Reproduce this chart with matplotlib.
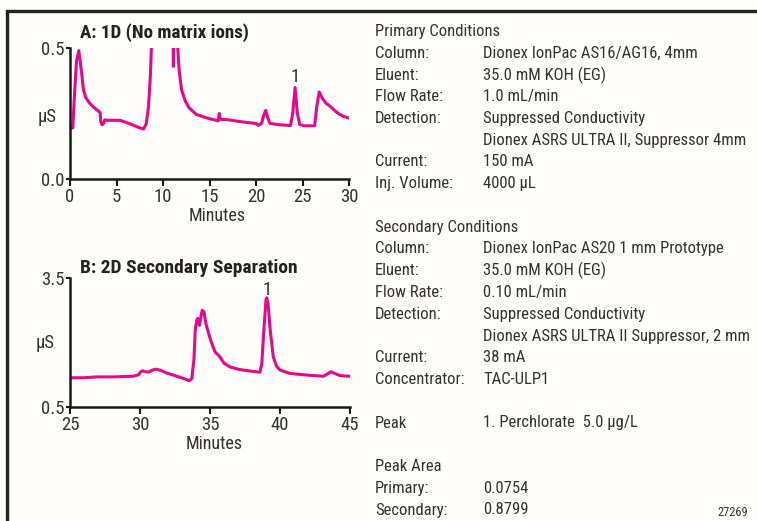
import matplotlib
matplotlib.use("Agg")
import matplotlib.pyplot as plt
from matplotlib.lines import Line2D
from matplotlib import font_manager as fm

_avail = set(f.name for f in fm.fontManager.ttflist)

def pick(prefs):
    for p in prefs:
        if p in _avail:
            return p
    return 'DejaVu Sans'

REG = pick(['Roboto Condensed', 'Archivo Narrow', 'Asap Condensed', 'DejaVu Sans'])
BOLD = pick(['Roboto Condensed', 'Asap Condensed', 'Barlow Condensed', 'DejaVu Sans'])
plt.rcParams['font.family'] = [REG, 'DejaVu Sans']

# ---- data ----
a_time = [0.0, 0.3, 0.45, 0.7, 0.95, 1.2, 1.45, 1.7, 2.1, 2.6, 3.1, 3.25, 3.3, 3.45, 3.6, 3.75,
          4.0, 5.4, 6.5, 7.5, 7.9, 8.2, 8.45, 8.65, 8.8, 9.0, 10.8, 11.0, 11.12, 11.22, 11.4,
          11.5, 11.58, 11.75, 12.0, 12.4, 12.8, 13.1, 13.6, 14.7, 15.95, 16.05, 16.15, 17.0,
          18.5, 20.0, 20.2, 20.4, 20.6, 20.85, 21.05, 21.25, 21.5, 22.5, 23.7, 23.95, 24.2,
          24.45, 24.7, 25.2, 26.3, 26.55, 26.8, 27.1, 27.5, 27.95, 28.5, 29.0, 29.5, 30.0]
a_val = [0.195, 0.195, 0.30, 0.45, 0.49, 0.42, 0.34, 0.31, 0.29, 0.272, 0.258, 0.252, 0.22,
         0.207, 0.212, 0.226, 0.224, 0.224, 0.21, 0.195, 0.191, 0.21, 0.28, 0.40, 0.55, 0.9,
         1.0, 0.8, 0.43, 0.8, 1.0, 0.8, 0.5, 0.41, 0.34, 0.297, 0.272, 0.262, 0.246, 0.233,
         0.222, 0.25, 0.228, 0.226, 0.218, 0.212, 0.205, 0.208, 0.212, 0.245, 0.262, 0.235,
         0.212, 0.207, 0.204, 0.25, 0.349, 0.25, 0.208, 0.203, 0.203, 0.28, 0.332, 0.31, 0.29,
         0.278, 0.26, 0.246, 0.238, 0.232]

b_time = [25.0, 26.0, 26.9, 28.0, 29.5, 29.9, 30.05, 30.2, 30.4, 30.6, 30.9, 31.15, 31.5, 31.9,
          32.4, 32.86, 33.3, 33.5, 33.7, 33.85, 33.95, 34.05, 34.12, 34.25, 34.35, 34.45,
          34.57, 34.7, 34.9, 35.1, 35.36, 35.7, 36.0, 36.43, 37.14, 38.0, 38.57, 38.7, 38.85,
          39.0, 39.05, 39.15, 39.3, 39.52, 39.75, 40.0, 40.7, 42.0, 43.1, 43.4, 43.65, 43.9,
          44.3, 45.0]
b_val = [1.18, 1.18, 1.20, 1.20, 1.215, 1.25, 1.32, 1.34, 1.32, 1.31, 1.36, 1.38, 1.35, 1.29,
         1.24, 1.19, 1.14, 1.11, 1.16, 1.6, 2.3, 2.52, 2.56, 2.4, 2.6, 2.75, 2.71, 2.45, 2.21,
         2.0, 1.78, 1.67, 1.52, 1.43, 1.37, 1.33, 1.31, 1.5, 2.3, 3.0, 3.04, 2.9, 2.29, 1.67,
         1.45, 1.36, 1.28, 1.24, 1.215, 1.27, 1.32, 1.28, 1.23, 1.215]

a_xticks = [0, 5, 10, 15, 20, 25, 30]
a_yticks = [0.0, 0.5]
b_xticks = [25, 30, 35, 40, 45]
b_yticks = [0.5, 3.5]

a_title = "A: 1D (No matrix ions)"
b_title = "B: 2D Secondary Separation"
peak_a = (24.2, 0.349)
peak_b = (39.05, 3.04)

cond_rows = [
    ("Primary Conditions", ""),
    ("Column:", "Dionex IonPac AS16/AG16, 4mm"),
    ("Eluent:", "35.0 mM KOH (EG)"),
    ("Flow Rate:", "1.0 mL/min"),
    ("Detection:", "Suppressed Conductivity"),
    ("", "Dionex ASRS ULTRA II, Suppressor 4mm"),
    ("Current:", "150 mA"),
    ("Inj. Volume:", "4000 µL"),
    None,
    ("Secondary Conditions", ""),
    ("Column:", "Dionex IonPac AS20 1 mm Prototype"),
    ("Eluent:", "35.0 mM KOH (EG)"),
    ("Flow Rate:", "0.10 mL/min"),
    ("Detection:", "Suppressed Conductivity"),
    ("", "Dionex ASRS ULTRA II Suppressor, 2 mm"),
    ("Current:", "38 mA"),
    ("Concentrator:", "TAC-ULP1"),
    None,
    ("Peak", "1. Perchlorate  5.0 µg/L"),
    None,
    ("Peak Area", ""),
    ("Primary:", "0.0754"),
    ("Secondary:", "0.8799"),
]

# ---- figure ----
W, H = 757, 521
BG = '#fffefa'
MAG = '#e8078a'
TXT = '#333333'
fig = plt.figure(figsize=(W / 100, H / 100), dpi=100, facecolor=BG)

def fx(px):
    return px / W

def fy(py):
    return 1 - py / H

# frame
fig.add_artist(Line2D([fx(7), fx(7), 1.0], [0.0, fy(11), fy(11)], color='#222222',
                      lw=2.4, solid_joinstyle='miter', transform=fig.transFigure))

def make_axes(l, r, t, b):
    ax = fig.add_axes([fx(l), fy(b), fx(r) - fx(l), fy(t) - fy(b)])
    ax.set_facecolor('none')
    for s in ('top', 'right'):
        ax.spines[s].set_visible(False)
    for s in ('left', 'bottom'):
        ax.spines[s].set_linewidth(1.8)
        ax.spines[s].set_color('#1a1a1a')
    ax.tick_params(axis='x', direction='out', length=5, width=1.5, labelsize=13.5,
                   pad=1.5, colors='#1a1a1a', labelcolor=TXT)
    ax.tick_params(axis='y', direction='out', length=3, width=1.5, labelsize=13.5,
                   pad=1, colors='#1a1a1a', labelcolor=TXT)
    return ax

# Panel A
axA = make_axes(70, 349, 48, 179)
axA.plot(a_time, a_val, color=MAG, lw=2.2, solid_joinstyle='round')
axA.set_xlim(0, 30)
axA.set_ylim(0.0, 0.5)
axA.set_xticks(a_xticks)
axA.set_yticks(a_yticks)
axA.set_yticklabels(['0.0', '0.5'])
axA.set_xlabel('Minutes', fontsize=13, color=TXT, labelpad=0.5)
axA.xaxis.label.set_x(0.529)
axA.text(-0.082, 0.47, 'µS', transform=axA.transAxes, fontsize=13.5, color=TXT,
         ha='center', va='center')
axA.text(0.035, 1.12, a_title, transform=axA.transAxes, fontsize=13.7,
         fontweight='bold', family=[BOLD, 'DejaVu Sans'], color='#222222',
         ha='left', va='center')
axA.annotate('1', xy=peak_a, xytext=(0, 1), textcoords='offset points',
             ha='center', va='bottom', fontsize=13.5, color=TXT)

# Panel B
axB = make_axes(70, 350, 278, 407)
axB.plot(b_time, b_val, color=MAG, lw=2.2, solid_joinstyle='round')
axB.set_xlim(25, 45)
axB.set_ylim(0.5, 3.5)
axB.set_xticks(b_xticks)
axB.set_yticks(b_yticks)
axB.set_xlabel('Minutes', fontsize=13, color=TXT, labelpad=0.5)
axB.xaxis.label.set_x(0.516)
axB.text(-0.089, 0.5, 'µS', transform=axB.transAxes, fontsize=13.5, color=TXT,
         ha='center', va='center')
axB.text(0.035, 1.08, b_title, transform=axB.transAxes, fontsize=14,
         fontweight='bold', family=[BOLD, 'DejaVu Sans'], color='#222222',
         ha='left', va='center')
axB.annotate('1', xy=peak_b, xytext=(0, -1), textcoords='offset points',
             ha='center', va='bottom', fontsize=13.5, color=TXT)

# Conditions text
y = 31.5
step = 21.75
for row in cond_rows:
    if row is None:
        y += step
        continue
    lab, val = row
    if lab:
        fig.text(fx(375), fy(y), lab, fontsize=12, color=TXT, ha='left', va='center')
    if val:
        fig.text(fx(483), fy(y), val, fontsize=12, color=TXT, ha='left', va='center')
    y += step

fig.text(fx(748), fy(513), '27269', fontsize=9, color=TXT, ha='right', va='center')

fig.savefig('out.png', dpi=100, facecolor=BG)
